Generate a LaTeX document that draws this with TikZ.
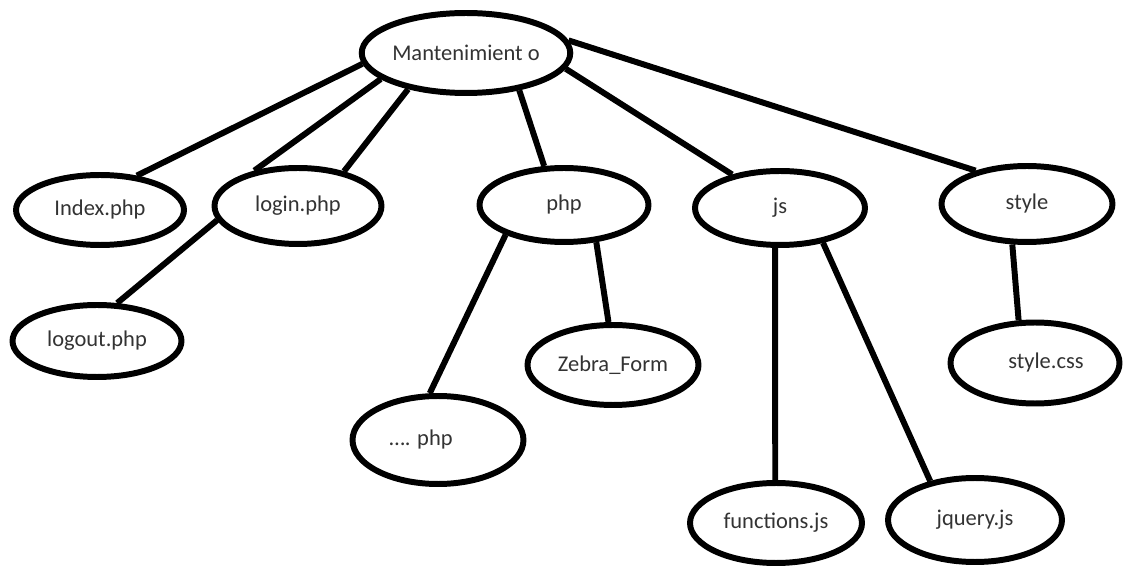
\documentclass[tikz,border=0pt]{standalone}
\usepackage{fontspec}
\setmainfont{Carlito}
\usetikzlibrary{shapes.geometric,backgrounds}
\definecolor{inkgray}{HTML}{333333}
\begin{document}
\begin{tikzpicture}[x=0.02cm,y=-0.02cm,
  bubble/.style={ellipse,draw=black,fill=white,line width=3.4pt,inner sep=0pt,
    text=inkgray,font=\fontsize{12.8}{15}\selectfont},
  link/.style={line width=3.4pt,draw=black}]
\useasboundingbox (0,0) rectangle (1123,567);

% folder tree nodes
\node[bubble,minimum width=4.12cm,minimum height=1.60cm] (M)   at (466,53)  {Mantenimient o};
\node[bubble,minimum width=3.36cm,minimum height=1.40cm] (idx) at (100,210) {Index.php};
\node[bubble,minimum width=3.34cm,minimum height=1.52cm] (lin) at (298,206) {login.php};
\node[bubble,minimum width=3.38cm,minimum height=1.44cm] (lout) at (97,341) {logout.php};
\node[bubble,minimum width=3.38cm,minimum height=1.48cm] (php) at (564,205) {php};
\node[bubble,minimum width=3.42cm,minimum height=1.60cm] (zf)  at (613,365) {Zebra\_Form};
\node[bubble,minimum width=3.42cm,minimum height=1.76cm] (dots) at (438,440) {\hspace*{-0.68cm}…. php};
\node[bubble,minimum width=3.40cm,minimum height=1.48cm] (js)  at (780,208) {js};
\node[bubble,minimum width=3.42cm,minimum height=1.52cm] (sty) at (1027,204) {style};
\node[bubble,minimum width=3.38cm,minimum height=1.62cm] (css) at (1035,363) {\hspace*{0.44cm}style.css};
\node[bubble,minimum width=3.44cm,minimum height=1.60cm] (fn)  at (776,523) {functions.js};
\node[bubble,minimum width=3.48cm,minimum height=1.68cm] (jq)  at (975,520) {jquery.js};

% connectors
\begin{scope}[on background layer]
\draw[link] (M.186.6) -- (idx.43);
\draw[link] (M.197) -- (lin.141);
\draw[link] (M.212) -- (lin.37.7);
\draw[link] (lin.190.9) -- (lout.62);
\draw[link] (M.325) -- (php.117.7);
\draw[link] (php.207.7) -- (dots.100);
\draw[link] (php.311) -- (zf.96.6);
\draw[link] (M.351.6) -- (js.145);
\draw[link] (M.7.1) -- (sty.147);
\draw[link] (js.263) -- (fn.91);
\draw[link] (js.321) -- (jq.139.8);
\draw[link] (sty.250) -- (css.111.6);
\end{scope}
\end{tikzpicture}
\end{document}
